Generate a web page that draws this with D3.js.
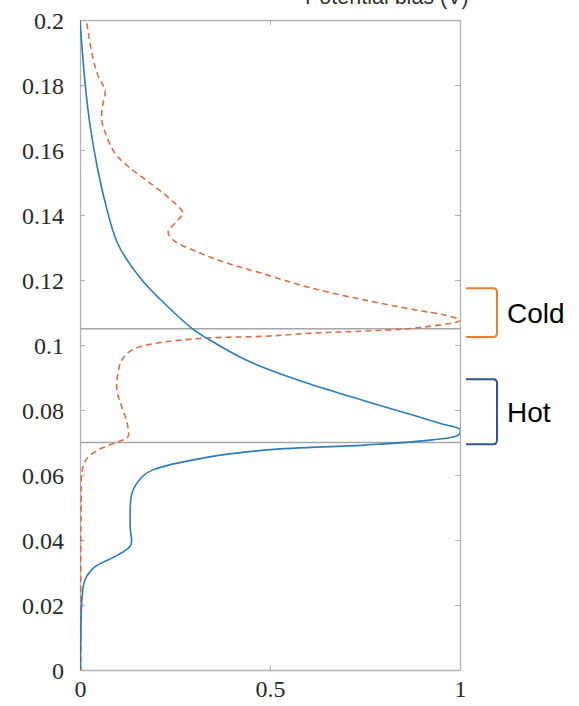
<!DOCTYPE html>
<html>
<head>
<meta charset="utf-8">
<script src="https://cdn.jsdelivr.net/npm/d3@7"></script>
<style>
  html, body { margin: 0; padding: 0; background: #fff; }
  svg { display: block; }
</style>
</head>
<body>
<svg id="chart" width="579" height="706"></svg>
<script>
// Hot-carrier distribution (solid) against potential bias
const hotPotential = [0.2, 0.181, 0.168, 0.155, 0.144, 0.131, 0.12, 0.1117, 0.1049, 0.1006,
  0.096, 0.0923, 0.088, 0.0828, 0.0782, 0.0757, 0.074, 0.0723, 0.0708, 0.0692, 0.0678, 0.0655,
  0.0615, 0.0594, 0.0545, 0.044, 0.0385, 0.0354, 0.0317, 0.0277, 0.0215, 0.009, 0];
const hotDensity = [0, 0.013, 0.026, 0.045, 0.066, 0.1, 0.163, 0.232, 0.297, 0.355,
  0.426, 0.5, 0.605, 0.75, 0.882, 0.953, 1.0, 0.995, 0.926, 0.75, 0.5, 0.337,
  0.19, 0.163, 0.137, 0.132, 0.134, 0.1, 0.039, 0.013, 0.005, 0.002, 0.001];

// Cold-carrier distribution (dashed) against potential bias
const coldPotential = [0.199, 0.19, 0.183, 0.1782, 0.174, 0.1695, 0.1655, 0.159, 0.155, 0.151,
  0.147, 0.143, 0.1406, 0.1375, 0.1348, 0.1323, 0.1283, 0.1252, 0.1222, 0.1178, 0.1138,
  0.1108, 0.1092, 0.1076, 0.1052, 0.1043, 0.1037, 0.1027, 0.1021, 0.1006, 0.0985, 0.0954,
  0.0914, 0.0862, 0.0809, 0.076, 0.0717, 0.0702, 0.0683, 0.0655, 0.0615, 0.05, 0.03, 0];
const coldDensity = [0.018, 0.031, 0.047, 0.066, 0.06, 0.057, 0.066, 0.092, 0.126, 0.171,
  0.216, 0.255, 0.271, 0.25, 0.232, 0.245, 0.316, 0.387, 0.474, 0.6, 0.75,
  0.882, 0.96, 1.0, 0.88, 0.75, 0.618, 0.487, 0.329, 0.205, 0.137, 0.11,
  0.1, 0.097, 0.11, 0.124, 0.126, 0.1, 0.058, 0.021, 0.006, 0.003, 0.002, 0.002];

// Reference levels separating the two populations
const levels = [0.105, 0.07];

const xTicks = [0, 0.5, 1];
const xTickLabels = ["0", "0.5", "1"];
const yTicks = [0, 0.02, 0.04, 0.06, 0.08, 0.1, 0.12, 0.14, 0.16, 0.18, 0.2];
const yTickLabels = ["0", "0.02", "0.04", "0.06", "0.08", "0.1", "0.12", "0.14", "0.16", "0.18", "0.2"];

const brackets = [
  { label: "Cold", top: 0.1175, bottom: 0.1025, color: "#ed7d31" },
  { label: "Hot", top: 0.0895, bottom: 0.0695, color: "#2f5597" }
];

const margin = { left: 80, right: 119, top: 20, bottom: 36 };
const W = 579, H = 706;
const svg = d3.select("#chart");

const x = d3.scaleLinear().domain([0, 1]).range([margin.left, W - margin.right]);
const y = d3.scaleLinear().domain([0, 0.2]).range([H - margin.bottom, margin.top]);

const axisColor = "#b3b3b3";
const labelFont = "'Liberation Serif', 'DejaVu Serif', serif";

// Axis title, mostly cut off by the top edge
svg.append("text")
  .attr("x", 305).attr("y", 4)
  .attr("font-family", "'Liberation Sans', Arial, sans-serif")
  .attr("font-size", 21.5)
  .attr("fill", "#333")
  .text("Potential bias (V)");

// Box axes with inward ticks
function styleAxis(g, showLabels) {
  g.select(".domain").attr("stroke", axisColor).attr("stroke-width", 1.3);
  g.selectAll(".tick line").attr("stroke", axisColor).attr("stroke-width", 1);
  g.selectAll(".tick text")
    .attr("font-family", labelFont)
    .attr("font-size", 24)
    .attr("fill", "#2a2a2a");
  if (!showLabels) g.selectAll(".tick text").remove();
}

svg.append("g")
  .attr("transform", `translate(0,${y(0)})`)
  .call(d3.axisBottom(x).tickValues(xTicks).tickFormat((d, i) => xTickLabels[i])
    .tickSizeInner(-5).tickSizeOuter(0).tickPadding(10))
  .call(g => styleAxis(g, true));

svg.append("g")
  .attr("transform", `translate(0,${y(0.2)})`)
  .call(d3.axisTop(x).tickValues(xTicks).tickSizeInner(-5).tickSizeOuter(0))
  .call(g => styleAxis(g, false));

svg.append("g")
  .attr("transform", `translate(${x(0)},0)`)
  .call(d3.axisLeft(y).tickValues(yTicks).tickFormat((d, i) => yTickLabels[i])
    .tickSizeInner(-5).tickSizeOuter(0).tickPadding(16))
  .call(g => styleAxis(g, true))
  .call(g => g.selectAll(".tick text").attr("dy", "0.36em"));

svg.append("g")
  .attr("transform", `translate(${x(1)},0)`)
  .call(d3.axisRight(y).tickValues(yTicks).tickSizeInner(-5).tickSizeOuter(0))
  .call(g => styleAxis(g, false));

// Clip curves to the plotting box
svg.append("clipPath").attr("id", "plotClip")
  .append("rect")
  .attr("x", x(0)).attr("y", y(0.2))
  .attr("width", x(1) - x(0)).attr("height", y(0) - y(0.2));

// Horizontal reference levels
svg.append("g").selectAll("line")
  .data(levels)
  .join("line")
  .attr("x1", x(0)).attr("x2", x(1))
  .attr("y1", d => y(d)).attr("y2", d => y(d))
  .attr("stroke", "#a6a6a6")
  .attr("stroke-width", 1.4);

const line = d3.line()
  .x(d => x(d[0]))
  .y(d => y(d[1]))
  .curve(d3.curveCatmullRom.alpha(0.5));

const hotData = hotDensity.map((v, i) => [v, hotPotential[i]]);
const coldData = coldDensity.map((v, i) => [v, coldPotential[i]]);

const plot = svg.append("g").attr("clip-path", "url(#plotClip)");

plot.append("path")
  .datum(coldData)
  .attr("d", line)
  .attr("fill", "none")
  .attr("stroke", "#d8714a")
  .attr("stroke-width", 1.6)
  .attr("stroke-dasharray", "6,4");

plot.append("path")
  .datum(hotData)
  .attr("d", line)
  .attr("fill", "none")
  .attr("stroke", "#2d7cb8")
  .attr("stroke-width", 1.6);

// Side brackets with labels
const bx0 = x(1) + 6, bx1 = x(1) + 37, r = 4;
brackets.forEach(b => {
  const t = y(b.top), btm = y(b.bottom);
  svg.append("path")
    .attr("d", `M${bx0},${t} L${bx1 - r},${t} Q${bx1},${t} ${bx1},${t + r} L${bx1},${btm - r} Q${bx1},${btm} ${bx1 - r},${btm} L${bx0},${btm}`)
    .attr("fill", "none")
    .attr("stroke", b.color)
    .attr("stroke-width", 2);
  svg.append("text")
    .attr("x", bx1 + 10)
    .attr("y", (t + btm) / 2 + 10)
    .attr("font-family", "'Liberation Sans', Arial, sans-serif")
    .attr("font-size", 28)
    .attr("fill", "#000")
    .text(b.label);
});
</script>
</body>
</html>
